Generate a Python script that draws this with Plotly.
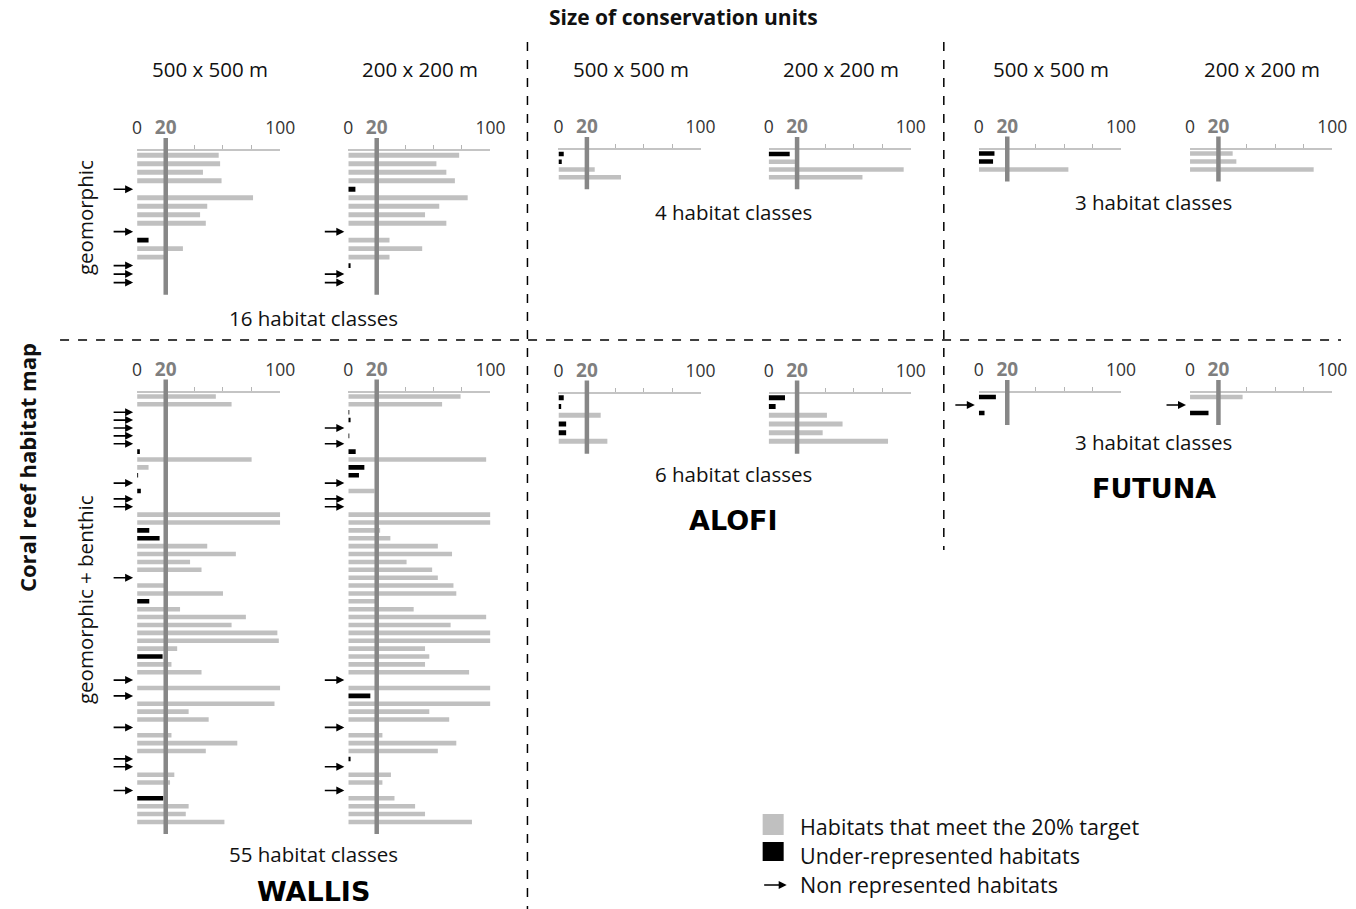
import plotly.graph_objects as go

# ---------------- data ----------------
TARGET = 20
SIZE_LABELS = ["500 x 500 m", "200 x 200 m"]
ISLANDS = ["WALLIS", "ALOFI", "FUTUNA"]
MAP_TYPES = ["geomorphic", "geomorphic + benthic"]
CLASS_COUNTS = {("WALLIS", 0): 16, ("ALOFI", 0): 4, ("FUTUNA", 0): 3,
                ("WALLIS", 1): 55, ("ALOFI", 1): 6, ("FUTUNA", 1): 3}
X_TICKS = [0, 20, 100]
X_MINOR_TICKS = [40, 60, 80]

# % of each habitat protected; status: G = meets target, B = under-represented, N = not represented
WALLIS_GEO_500 = [57, 58, 46, 59, 0, 81, 49, 44, 48, 0, 8, 32, 19, 0, 0, 0]
WALLIS_GEO_500_ST = "GGGGNGGGGNBGGNNN"
WALLIS_GEO_200 = [78, 62, 69, 75, 5, 84, 64, 54, 69, 0, 29, 52, 29, 1.6, 0, 0]
WALLIS_GEO_200_ST = "GGGGBGGGGNGGGBNN"

WALLIS_GB_500 = [55, 66, 0, 0, 0, 0, 0, 1.9, 80, 8,
                 0.7, 0, 2.6, 0, 0, 100, 100, 8.5, 15.7, 49,
                 69, 37, 45, 0, 19, 60, 8.5, 30, 76, 66,
                 98, 99, 28, 17.8, 24, 45, 0, 100, 0, 96,
                 36, 50, 0, 24, 70, 48, 0, 0, 26, 23,
                 0, 18.3, 36, 34, 61]
WALLIS_GB_500_ST = "GGNNNNNBGG" "BNBNNGGBBG" "GGGNGGBGGG" "GGGBGGNGNG" "GGNGGGNNGG" "NBGGG"
WALLIS_GB_200 = [79, 66, 0.7, 1.6, 0, 0.7, 0, 5.2, 97, 11.3,
                 7.5, 0, 18.4, 0, 0, 100, 100, 22.4, 29.6, 63,
                 73, 41, 59, 63, 74, 76, 18.8, 46, 97, 72,
                 100, 100, 54, 57, 54, 85, 0, 100, 15.5, 100,
                 57, 71, 0, 24, 76, 63, 1.6, 0, 30, 24,
                 0, 32.5, 47, 54, 87]
WALLIS_GB_200_ST = "GGBBNBNBGB" "BNGNNGGGGG" "GGGGGGGGGG" "GGGGGGNGBG" "GGNGGGBNGG" "NGGGG"

ALOFI_GEO_500 = [3.7, 2.3, 25.5, 44]
ALOFI_GEO_500_ST = "BBGG"
ALOFI_GEO_200 = [14.8, 18.5, 95, 66]
ALOFI_GEO_200_ST = "BGGG"
ALOFI_GB_500 = [3.7, 1.9, 29.7, 5.4, 5.4, 34.4]
ALOFI_GB_500_ST = "BBGBBG"
ALOFI_GB_200 = [11.5, 4.9, 41, 52, 38, 84]
ALOFI_GB_200_ST = "BBGGGG"

FUTUNA_GEO_500 = [11, 10, 63]
FUTUNA_GEO_500_ST = "BBG"
FUTUNA_GEO_200 = [30, 32.6, 87]
FUTUNA_GEO_200_ST = "GGG"
FUTUNA_GB_500 = [12, 0, 4]
FUTUNA_GB_500_ST = "BNB"
FUTUNA_GB_200 = [37, 0, 13]
FUTUNA_GB_200_ST = "GNB"

DATA = {
    ("WALLIS", 0, 0): (WALLIS_GEO_500, WALLIS_GEO_500_ST),
    ("WALLIS", 0, 1): (WALLIS_GEO_200, WALLIS_GEO_200_ST),
    ("WALLIS", 1, 0): (WALLIS_GB_500, WALLIS_GB_500_ST),
    ("WALLIS", 1, 1): (WALLIS_GB_200, WALLIS_GB_200_ST),
    ("ALOFI", 0, 0): (ALOFI_GEO_500, ALOFI_GEO_500_ST),
    ("ALOFI", 0, 1): (ALOFI_GEO_200, ALOFI_GEO_200_ST),
    ("ALOFI", 1, 0): (ALOFI_GB_500, ALOFI_GB_500_ST),
    ("ALOFI", 1, 1): (ALOFI_GB_200, ALOFI_GB_200_ST),
    ("FUTUNA", 0, 0): (FUTUNA_GEO_500, FUTUNA_GEO_500_ST),
    ("FUTUNA", 0, 1): (FUTUNA_GEO_200, FUTUNA_GEO_200_ST),
    ("FUTUNA", 1, 0): (FUTUNA_GB_500, FUTUNA_GB_500_ST),
    ("FUTUNA", 1, 1): (FUTUNA_GB_200, FUTUNA_GB_200_ST),
}

# ---------------- layout geometry (pixels) ----------------
W, H = 1356, 909
# the page is photographed slightly narrower than requested; compensate horizontally
X_OFF, X_SCALE = 5.0, 0.9844
def px(x): return min(1.0, max(0.0, (x - X_OFF) / X_SCALE / W))
def py(y): return 1 - y / H

COL_X = {("WALLIS", 0): (137, 280), ("WALLIS", 1): (348, 490),
         ("ALOFI", 0): (558, 700), ("ALOFI", 1): (768, 910),
         ("FUTUNA", 0): (978, 1120), ("FUTUNA", 1): (1189, 1331)}
# (axis top y, row spacing) per island / map type
ROW_GEOM = {("WALLIS", 0): (151, 8.49), ("ALOFI", 0): (150, 7.8), ("FUTUNA", 0): (149.5, 8.0),
            ("WALLIS", 1): (392.5, 7.88), ("ALOFI", 1): (393.5, 8.7), ("FUTUNA", 1): (393, 8.0)}

COLORS = {"G": "#c0c0c0", "B": "#000000", "N": "rgba(0,0,0,0)"}
FONT = "Open Sans, Arial, sans-serif"
BOLDFONT = "DejaVu Sans, Arial Black, sans-serif"

fig = go.Figure()
layout = dict(width=W, height=H, autosize=False, margin=dict(l=0, r=0, t=0, b=0),
              paper_bgcolor="white", plot_bgcolor="white", showlegend=False,
              font=dict(family=FONT, color="#222"))
annotations = []
shapes = []

k = 0
for (island, m, s), (vals, st) in DATA.items():
    k += 1
    xa = "x" if k == 1 else f"x{k}"
    ya = "y" if k == 1 else f"y{k}"
    n = len(vals)
    x0, x1 = COL_X[(island, s)]
    top, sp = ROW_GEOM[(island, m)]
    bottom = top + n * sp
    rows = list(range(n))
    fig.add_trace(go.Bar(
        x=vals, y=rows, orientation="h", xaxis=xa, yaxis=ya,
        marker=dict(color=[COLORS[c] for c in st], line=dict(width=0)),
        width=0.58, hoverinfo="skip"))
    layout["xaxis" if k == 1 else f"xaxis{k}"] = dict(
        domain=[px(x0), px(x1)], range=[0, 100], anchor=ya, side="top",
        tickmode="array", tickvals=X_TICKS,
        ticktext=["0", '<span style="color:#7f7f7f;font-size:19px"><b>20</b></span>', "100"],
        tickfont=dict(size=17.5, color="#333", family=FONT),
        ticks="outside", ticklen=8, tickcolor="rgba(0,0,0,0)",
        minor=dict(tickvals=X_MINOR_TICKS, ticks="outside", ticklen=4,
                   tickcolor="#b5b5b5", tickwidth=1, showgrid=False),
        showgrid=True, gridcolor="#b5b5b5", griddash="dot", gridwidth=1,
        zeroline=False, showline=True, linecolor="#c4c4c4", linewidth=1.5,
        fixedrange=True)
    layout["yaxis" if k == 1 else f"yaxis{k}"] = dict(
        domain=[py(bottom), py(top)], range=[n - 0.5, -0.5], anchor=xa,
        visible=False, fixedrange=True)
    h = bottom - top
    shapes.append(dict(type="line", xref=xa, yref=f"{ya} domain",
                       x0=TARGET, x1=TARGET, y0=-8 / h, y1=1 + 13 / h,
                       line=dict(color="#878787", width=4.5), layer="above"))
    for i, c in enumerate(st):
        if c == "N":
            annotations.append(dict(x=0, y=i, xref=xa, yref=ya, text="",
                                    showarrow=True, ax=-25, ay=0, standoff=4,
                                    arrowhead=2, arrowsize=1, arrowwidth=1.6,
                                    arrowcolor="black"))

def txt(x, y, t, size=17, family=FONT, angle=0, anchor="center", yanchor="middle", color="#111"):
    annotations.append(dict(x=px(x), y=py(y), xref="paper", yref="paper", text=t,
                            showarrow=False, xanchor=anchor, yanchor=yanchor,
                            textangle=angle,
                            font=dict(size=size, family=family, color=color)))

txt(683, 17, "<b>Size of conservation units</b>", size=21)
for island in ISLANDS:
    for s in range(2):
        x0, x1 = COL_X[(island, s)]
        txt((x0 + x1) / 2 + 1, 69, SIZE_LABELS[s], size=20.5)

CLASS_TEXT_POS = {("WALLIS", 0): (313, 318), ("ALOFI", 0): (733, 212), ("FUTUNA", 0): (1153, 202),
                  ("WALLIS", 1): (313, 854), ("ALOFI", 1): (733, 474), ("FUTUNA", 1): (1153, 442)}
for key, (x, y) in CLASS_TEXT_POS.items():
    txt(x, y, f"{CLASS_COUNTS[key]} habitat classes", size=20.5)

txt(313, 909, "<b>WALLIS</b>", size=27, family=BOLDFONT, color="#000", yanchor="bottom")
txt(733, 520, "<b>ALOFI</b>", size=27, family=BOLDFONT, color="#000")
txt(1153, 488, "<b>FUTUNA</b>", size=27, family=BOLDFONT, color="#000")

txt(27, 468, "<b>Coral reef habitat map</b>", size=22, angle=-90)
txt(85, 218, MAP_TYPES[0], size=20.5, angle=-90)
txt(85, 600, MAP_TYPES[1], size=20.5, angle=-90)

# dashed separators
dash = dict(color="black", width=1.5, dash="dash")
shapes.append(dict(type="line", xref="paper", yref="paper", x0=px(527), x1=px(527), y0=py(42), y1=py(909), line=dash))
shapes.append(dict(type="line", xref="paper", yref="paper", x0=px(943), x1=px(943), y0=py(42), y1=py(550), line=dash))
shapes.append(dict(type="line", xref="paper", yref="paper", x0=px(60), x1=px(1356), y0=py(340), y1=py(340), line=dash))

# legend
LEGEND_ITEMS = ["Habitats that meet the 20% target", "Under-represented habitats", "Non represented habitats"]
shapes.append(dict(type="rect", xref="paper", yref="paper", x0=px(762), x1=px(783), y0=py(835), y1=py(814),
                   fillcolor=COLORS["G"], line=dict(width=0)))
shapes.append(dict(type="rect", xref="paper", yref="paper", x0=px(762), x1=px(783), y0=py(861), y1=py(842),
                   fillcolor=COLORS["B"], line=dict(width=0)))
annotations.append(dict(x=px(786), y=py(885), xref="paper", yref="paper", text="", showarrow=True,
                        ax=-24, ay=0, arrowhead=2, arrowsize=1, arrowwidth=1.6, arrowcolor="black"))
for i, t in enumerate(LEGEND_ITEMS):
    txt(797, 826 + i * 29, t, size=21.5, anchor="left")

layout["annotations"] = annotations
layout["shapes"] = shapes
fig.update_layout(**layout)
fig.write_html("out.html", config={"responsive": False})
